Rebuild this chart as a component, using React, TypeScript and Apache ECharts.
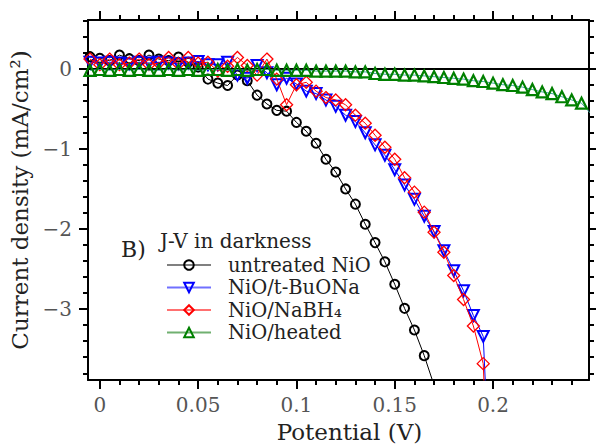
import React, { useEffect, useRef } from "react";
import * as echarts from "echarts";

const potential = [
  -0.005, 0, 0.005, 0.01, 0.015, 0.02, 0.025, 0.03, 0.035, 0.04, 0.045, 0.05, 0.055,
  0.06, 0.065, 0.07, 0.075, 0.08, 0.085, 0.09, 0.095, 0.1, 0.105, 0.11, 0.115, 0.12,
  0.125, 0.13, 0.135, 0.14, 0.145, 0.15, 0.155, 0.16, 0.165, 0.17, 0.175, 0.18, 0.185,
  0.19, 0.195, 0.2, 0.205, 0.21, 0.215, 0.22, 0.225, 0.23, 0.235, 0.24, 0.245, 0.25,
];

const untreated = [
  0.15, 0.13, 0.1, 0.17, 0.125, 0.1, 0.17, 0.12, 0.1, 0.145, 0.08, 0.02, -0.13,
  -0.18, -0.21, -0.08, -0.15, -0.33, -0.44, -0.52, -0.53, -0.67, -0.78, -0.93, -1.13, -1.29,
  -1.5, -1.69, -1.94, -2.17, -2.41, -2.69, -2.99, -3.26, -3.58, -3.95,
];

const tBuONa = [
  0.08, 0.07, 0.08, 0.07, 0.06, 0.08, 0.07, 0.08, 0.07, 0.06, 0.07, 0.09, 0.05,
  0.05, 0.08, -0.08, -0.12, 0.04, -0.05, -0.2, -0.12, -0.19, -0.28, -0.31, -0.39, -0.47,
  -0.58, -0.66, -0.8, -0.95, -1.08, -1.26, -1.45, -1.63, -1.84, -2.03, -2.27, -2.52, -2.77,
  -3.08, -3.34, -6.0,
];

const naBH4 = [
  0.12, 0.05, 0.12, 0.05, 0.07, 0.12, 0.05, 0.07, 0.14, 0.06, 0.14, 0.07, 0.08,
  -0.03, 0.03, 0.14, 0.04, -0.08, 0.12, -0.13, -0.45, -0.2, -0.17, -0.28, -0.36, -0.39,
  -0.45, -0.58, -0.68, -0.83, -0.98, -1.13, -1.36, -1.54, -1.79, -2.04, -2.29, -2.58, -2.88,
  -3.21, -3.68, -6.5,
];

const heated = [
  -0.02, -0.01, -0.02, -0.01, -0.02, -0.01, -0.02, -0.02, -0.01, -0.02, -0.01, -0.02, -0.01,
  -0.01, -0.02, -0.01, -0.02, -0.01, -0.01, -0.02, -0.02, -0.02, -0.02, -0.03, -0.03, -0.03,
  -0.03, -0.04, -0.04, -0.06, -0.07, -0.07, -0.08, -0.08, -0.09, -0.1, -0.11, -0.12, -0.13,
  -0.15, -0.16, -0.18, -0.2, -0.21, -0.23, -0.26, -0.29, -0.31, -0.35, -0.39, -0.43, -0.57,
];

const xMajorTicks = [0, 0.05, 0.1, 0.15, 0.2];
const xMinorTicks = [
  0.01, 0.02, 0.03, 0.04, 0.06, 0.07, 0.08, 0.09, 0.11, 0.12, 0.13, 0.14, 0.16, 0.17,
  0.18, 0.19, 0.21, 0.22, 0.23, 0.24,
];
const yMajorTicks = [-3, -2, -1, 0];
const yMinorTicks = [
  -3.8, -3.6, -3.4, -3.2, -2.8, -2.6, -2.4, -2.2, -1.8, -1.6, -1.4, -1.2, -0.8, -0.6,
  -0.4, -0.2, 0.2, 0.4, 0.6,
];

const seriesNames = ["untreated NiO", "NiO/t-BuONa", "NiO/NaBH\u2084", "NiO/heated"];

const FONT = "DejaVu Serif";
const X_MIN = -0.006;
const X_MAX = 0.2488;
const Y_MIN = -3.884;
const Y_MAX = 0.6075;

function pairs(values: number[]) {
  return values.map((v, i) => [potential[i], v]);
}

function fmtNum(v: number) {
  const s = String(Math.abs(v));
  return v < 0 ? "\u2212" + s : s;
}

export default function App() {
  const ref = useRef<HTMLDivElement>(null);

  useEffect(() => {
    document.body.style.margin = "0";
    const chart = echarts.init(ref.current!, null, { renderer: "svg" });

    const spine = { show: true, onZero: false, lineStyle: { color: "#000", width: 2 } };
    const noLine = { show: false, onZero: false };
    const xAxisBase = {
      type: "value" as const,
      min: X_MIN,
      max: X_MAX,
      splitLine: { show: false },
    };
    const yAxisBase = {
      type: "value" as const,
      min: Y_MIN,
      max: Y_MAX,
      splitLine: { show: false },
    };
    const majorTick = (vals: number[]) => ({
      show: true,
      inside: false,
      length: 9,
      customValues: vals,
      lineStyle: { color: "#000", width: 2 },
    });
    const minorTick = (vals: number[]) => ({
      show: true,
      inside: false,
      length: 5,
      customValues: vals,
      lineStyle: { color: "#000", width: 2 },
    });

    const option: any = {
      animation: false,
      backgroundColor: "#fff",
      textStyle: { fontFamily: FONT },
      grid: { left: 88, right: 7, top: 20, bottom: 67, outerBoundsMode: "none" },
      title: [
        {
          text: "B)",
          left: 121,
          top: 238,
          padding: 0,
          textStyle: { fontFamily: FONT, fontSize: 22, fontWeight: "normal", color: "#222" },
        },
        {
          text: "J-V in darkness",
          left: 160,
          top: 231,
          padding: 0,
          textStyle: { fontFamily: FONT, fontSize: 20, fontWeight: "normal", color: "#222" },
        },
      ],
      legend: {
        orient: "vertical",
        left: 166,
        top: 255,
        padding: 0,
        itemWidth: 44,
        itemHeight: 12,
        itemGap: 2.5,
        textStyle: {
          fontFamily: FONT,
          fontSize: 19.5,
          lineHeight: 19.5,
          color: "#222",
          padding: [0, 0, 0, 12],
        },
        data: [
          { name: seriesNames[0], lineStyle: { color: "#808080" } },
          { name: seriesNames[1], lineStyle: { color: "#7070ff" } },
          { name: seriesNames[2], lineStyle: { color: "#ff7070" } },
          { name: seriesNames[3], lineStyle: { color: "#70b070" } },
        ],
      },
      xAxis: [
        {
          ...xAxisBase,
          position: "bottom",
          axisLine: spine,
          axisTick: majorTick(xMajorTicks),
          axisLabel: {
            show: true,
            customValues: xMajorTicks,
            margin: 15,
            fontFamily: FONT,
            fontSize: 20,
            color: "#555",
            formatter: (v: number) => fmtNum(v),
          },
          name: "Potential (V)",
          nameLocation: "middle",
          nameGap: 40,
          nameTextStyle: {
            fontFamily: FONT,
            fontSize: 23,
            color: "#222",
            padding: [0, 0, 0, 22],
          },
        },
        {
          ...xAxisBase,
          position: "bottom",
          axisLine: noLine,
          axisTick: minorTick(xMinorTicks),
          axisLabel: { show: false },
        },
        {
          ...xAxisBase,
          position: "top",
          axisLine: spine,
          axisTick: majorTick(xMajorTicks),
          axisLabel: { show: false },
        },
        {
          ...xAxisBase,
          position: "top",
          axisLine: noLine,
          axisTick: minorTick(xMinorTicks),
          axisLabel: { show: false },
        },
      ],
      yAxis: [
        {
          ...yAxisBase,
          position: "left",
          axisLine: spine,
          axisTick: majorTick(yMajorTicks),
          axisLabel: {
            show: true,
            customValues: yMajorTicks,
            margin: 16,
            fontFamily: FONT,
            fontSize: 20,
            color: "#555",
            formatter: (v: number) => fmtNum(v),
          },
          name: "Current density (mA/cm\u00b2)",
          nameLocation: "middle",
          nameGap: 53,
          nameTextStyle: { fontFamily: FONT, fontSize: 23, color: "#222" },
        },
        {
          ...yAxisBase,
          position: "left",
          axisLine: noLine,
          axisTick: minorTick(yMinorTicks),
          axisLabel: { show: false },
        },
        {
          ...yAxisBase,
          position: "right",
          axisLine: spine,
          axisTick: majorTick(yMajorTicks),
          axisLabel: { show: false },
        },
        {
          ...yAxisBase,
          position: "right",
          axisLine: noLine,
          axisTick: minorTick(yMinorTicks),
          axisLabel: { show: false },
        },
      ],
      series: [
        {
          name: seriesNames[0],
          type: "line",
          data: pairs(untreated),
          symbol: "circle",
          symbolSize: 9,
          lineStyle: { color: "#000", width: 1 },
          itemStyle: { color: "rgba(255,255,255,0)", borderColor: "#000", borderWidth: 2 },
          clip: true,
          z: 2,
        },
        {
          name: seriesNames[1],
          type: "line",
          data: pairs(tBuONa),
          symbol: "triangle",
          symbolRotate: 180,
          symbolSize: 11,
          lineStyle: { color: "#0000ff", width: 1 },
          itemStyle: { color: "rgba(255,255,255,0)", borderColor: "#0000ff", borderWidth: 2 },
          clip: true,
          z: 3,
        },
        {
          name: seriesNames[2],
          type: "line",
          data: pairs(naBH4),
          symbol: "diamond",
          symbolSize: 12,
          lineStyle: { color: "#ff0000", width: 1 },
          itemStyle: { color: "rgba(255,255,255,0)", borderColor: "#ff0000", borderWidth: 1.3 },
          clip: true,
          z: 4,
        },
        {
          name: seriesNames[3],
          type: "line",
          data: pairs(heated),
          symbol: "triangle",
          symbolSize: 11,
          lineStyle: { color: "#3aa39a", width: 1 },
          itemStyle: { color: "rgba(255,255,255,0)", borderColor: "#008000", borderWidth: 2.2 },
          clip: true,
          z: 5,
          markLine: {
            silent: true,
            symbol: "none",
            label: { show: false },
            lineStyle: { color: "#000", width: 2, type: "solid" },
            data: [{ yAxis: 0 }],
          },
        },
      ],
    };

    chart.setOption(option);
    return () => chart.dispose();
  }, []);

  return <div ref={ref} style={{ width: 596, height: 447 }} />;
}
